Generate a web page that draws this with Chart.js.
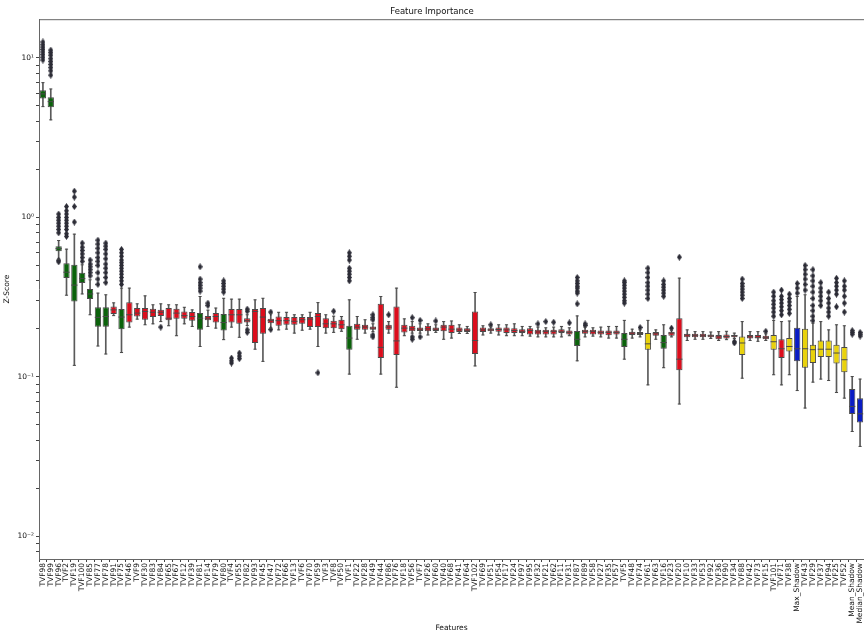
<!DOCTYPE html>
<html>
<head>
<meta charset="utf-8">
<script src="https://cdn.jsdelivr.net/npm/chart.js@4.4.0/dist/chart.umd.min.js"></script>
<style>
html, body { margin: 0; padding: 0; background: #fff; overflow: hidden; }
#wrap { width: 864px; height: 633px; }
canvas { display: block; }
</style>
</head>
<body>
<div id="wrap"><canvas id="chart" width="864" height="633"></canvas></div>
<script>
// feature names, in plotted order
var features = [
  'TVF98','TVF99','TVF96','TVF2','TVF19','TVF100','TVF85','TVF77','TVF78','TVF91',
  'TVF75','TVF46','TVF9','TVF30','TVF83','TVF84','TVF65','TVF67','TVF12','TVF39',
  'TVF81','TVF14','TVF79','TVF80','TVF4','TVF55','TVF82','TVF93','TVF45','TVF47',
  'TVF72','TVF66','TVF13','TVF6','TVF70','TVF59','TVF3','TVF8','TVF50','TVF1',
  'TVF22','TVF28','TVF49','TVF44','TVF86','TVF76','TVF18','TVF56','TVF7','TVF26',
  'TVF60','TVF40','TVF68','TVF41','TVF64','TVF102','TVF69','TVF51','TVF54','TVF17',
  'TVF24','TVF97','TVF95','TVF32','TVF21','TVF62','TVF11','TVF31','TVF87','TVF89',
  'TVF58','TVF27','TVF35','TVF57','TVF5','TVF48','TVF74','TVF61','TVF63','TVF16',
  'TVF23','TVF20','TVF10','TVF33','TVF53','TVF92','TVF36','TVF90','TVF34','TVF88',
  'TVF42','TVF73','TVF15','TVF101','TVF71','TVF38','Max_Shadow','TVF43','TVF29','TVF37',
  'TVF94','TVF25','TVF52','Mean_Shadow','Median_Shadow'
];

// A = accepted, R = rejected, T = tentative, S = shadow
var decision = [
  'A','A','A','A','A','A','A','A','A','R',
  'A','R','R','R','R','R','R','R','R','R',
  'A','R','R','A','R','R','R','R','R','R',
  'R','R','R','R','R','R','R','R','R','A',
  'R','R','R','R','R','R','R','R','R','R',
  'R','R','R','R','R','R','R','R','R','R',
  'R','R','R','R','R','R','R','R','A','R',
  'R','R','R','R','A','R','R','T','R','A',
  'R','R','R','R','R','R','R','R','R','T',
  'R','R','R','T','R','T','S','T','T','T',
  'T','T','T','S','S'
];

var whiskerLow = [
  4.95, 4.09, 0.547, 0.325, 0.118, 0.331, 0.245, 0.156, 0.139, 0.242,
  0.142, 0.205, 0.230, 0.212, 0.215, 0.222, 0.209, 0.181, 0.215, 0.207,
  0.155, 0.207, 0.202, 0.171, 0.205, 0.177, 0.210, 0.149, 0.125, 0.202,
  0.197, 0.199, 0.188, 0.196, 0.199, 0.155, 0.188, 0.190, 0.193, 0.104,
  0.172, 0.188, 0.192, 0.104, 0.188, 0.086, 0.181, 0.188, 0.188, 0.183,
  0.190, 0.172, 0.175, 0.187, 0.187, 0.117, 0.183, 0.188, 0.183, 0.181,
  0.181, 0.181, 0.180, 0.178, 0.178, 0.178, 0.178, 0.181, 0.126, 0.178,
  0.180, 0.178, 0.175, 0.175, 0.129, 0.175, 0.178, 0.089, 0.172, 0.114,
  0.178, 0.0675, 0.169, 0.172, 0.172, 0.174, 0.169, 0.171, 0.174, 0.098,
  0.169, 0.167, 0.169, 0.103, 0.089, 0.103, 0.082, 0.0637, 0.0926, 0.0968,
  0.0948, 0.0797, 0.0735, 0.0454, 0.0366
];

var q1 = [
  5.56, 4.91, 0.614, 0.416, 0.297, 0.387, 0.308, 0.206, 0.206, 0.248,
  0.199, 0.219, 0.239, 0.228, 0.237, 0.241, 0.226, 0.231, 0.231, 0.225,
  0.197, 0.226, 0.219, 0.195, 0.219, 0.215, 0.219, 0.163, 0.186, 0.217,
  0.209, 0.212, 0.212, 0.215, 0.205, 0.205, 0.202, 0.202, 0.199, 0.148,
  0.197, 0.197, 0.197, 0.131, 0.197, 0.137, 0.190, 0.193, 0.194, 0.193,
  0.194, 0.193, 0.188, 0.191, 0.191, 0.139, 0.191, 0.193, 0.192, 0.188,
  0.188, 0.188, 0.184, 0.184, 0.184, 0.184, 0.188, 0.184, 0.156, 0.186,
  0.184, 0.184, 0.182, 0.184, 0.154, 0.183, 0.183, 0.148, 0.181, 0.150,
  0.181, 0.110, 0.177, 0.177, 0.177, 0.177, 0.172, 0.174, 0.177, 0.137,
  0.174, 0.174, 0.172, 0.148, 0.131, 0.144, 0.125, 0.114, 0.122, 0.133,
  0.133, 0.121, 0.107, 0.0584, 0.0517
];

var median = [
  5.95, 5.32, 0.637, 0.453, 0.376, 0.413, 0.331, 0.236, 0.239, 0.263,
  0.237, 0.245, 0.251, 0.257, 0.254, 0.254, 0.233, 0.251, 0.242, 0.239,
  0.233, 0.233, 0.239, 0.219, 0.245, 0.245, 0.225, 0.257, 0.237, 0.225,
  0.225, 0.225, 0.223, 0.228, 0.230, 0.239, 0.215, 0.215, 0.212, 0.175,
  0.205, 0.205, 0.202, 0.153, 0.205, 0.168, 0.202, 0.200, 0.199, 0.200,
  0.199, 0.205, 0.199, 0.197, 0.196, 0.169, 0.197, 0.197, 0.198, 0.197,
  0.195, 0.193, 0.195, 0.191, 0.192, 0.192, 0.193, 0.190, 0.172, 0.192,
  0.192, 0.190, 0.190, 0.190, 0.172, 0.188, 0.187, 0.161, 0.186, 0.164,
  0.188, 0.129, 0.183, 0.182, 0.181, 0.181, 0.178, 0.179, 0.181, 0.163,
  0.178, 0.177, 0.176, 0.166, 0.150, 0.155, 0.150, 0.150, 0.148, 0.149,
  0.149, 0.141, 0.128, 0.0652, 0.0586
];

var q3 = [
  6.27, 5.67, 0.660, 0.516, 0.504, 0.449, 0.355, 0.273, 0.273, 0.276,
  0.266, 0.294, 0.270, 0.270, 0.267, 0.263, 0.270, 0.267, 0.257, 0.255,
  0.251, 0.241, 0.251, 0.248, 0.266, 0.266, 0.233, 0.266, 0.270, 0.231,
  0.239, 0.237, 0.237, 0.237, 0.237, 0.251, 0.233, 0.225, 0.228, 0.209,
  0.215, 0.212, 0.207, 0.287, 0.212, 0.276, 0.212, 0.209, 0.204, 0.209,
  0.204, 0.212, 0.212, 0.204, 0.202, 0.257, 0.204, 0.202, 0.204, 0.204,
  0.202, 0.199, 0.202, 0.197, 0.197, 0.197, 0.199, 0.195, 0.194, 0.197,
  0.197, 0.195, 0.195, 0.195, 0.188, 0.192, 0.191, 0.188, 0.191, 0.183,
  0.192, 0.233, 0.186, 0.186, 0.186, 0.184, 0.183, 0.184, 0.183, 0.179,
  0.183, 0.183, 0.181, 0.183, 0.172, 0.175, 0.203, 0.200, 0.159, 0.169,
  0.169, 0.159, 0.154, 0.0838, 0.0735
];

var whiskerHigh = [
  7.0, 6.39, 0.716, 0.632, 0.785, 0.504, 0.406, 0.335, 0.327, 0.291,
  0.360, 0.360, 0.287, 0.322, 0.283, 0.287, 0.283, 0.283, 0.273, 0.263,
  0.319, 0.262, 0.270, 0.311, 0.307, 0.307, 0.245, 0.304, 0.311, 0.250,
  0.254, 0.254, 0.245, 0.245, 0.254, 0.292, 0.245, 0.240, 0.239, 0.304,
  0.239, 0.228, 0.215, 0.319, 0.222, 0.360, 0.231, 0.222, 0.215, 0.215,
  0.212, 0.222, 0.224, 0.212, 0.207, 0.338, 0.209, 0.206, 0.212, 0.212,
  0.215, 0.207, 0.207, 0.205, 0.203, 0.205, 0.207, 0.203, 0.241, 0.205,
  0.203, 0.205, 0.207, 0.207, 0.226, 0.199, 0.197, 0.226, 0.197, 0.212,
  0.196, 0.416, 0.197, 0.192, 0.192, 0.191, 0.192, 0.193, 0.188, 0.222,
  0.192, 0.192, 0.186, 0.226, 0.222, 0.224, 0.319, 0.327, 0.217, 0.222,
  0.197, 0.212, 0.209, 0.1004, 0.0968
];

var outliers = [
  [9.7, 10.1, 10.5, 10.9, 11.3, 11.7, 12.1, 12.6],
  [7.8, 8.3, 8.7, 9.1, 9.5, 9.9, 10.4, 10.8, 11.2],
  [0.526, 0.538, 0.80, 0.84, 0.88, 0.92, 0.96, 1.0, 1.05],
  [0.76, 0.79, 0.84, 0.88, 0.92, 0.96, 1.0, 1.05, 1.1, 1.17],
  [0.935, 1.17, 1.34, 1.46],
  [0.53, 0.56, 0.59, 0.62, 0.65, 0.69],
  [0.43, 0.45, 0.47, 0.49, 0.51, 0.54],
  [0.38, 0.41, 0.45, 0.50, 0.53, 0.56, 0.60, 0.64, 0.68, 0.72],
  [0.39, 0.42, 0.45, 0.48, 0.51, 0.55, 0.59, 0.63, 0.66, 0.69],
  [],
  [0.38, 0.40, 0.42, 0.44, 0.46, 0.48, 0.50, 0.52, 0.54, 0.57, 0.60, 0.63],
  [], [], [], [],
  [0.205],
  [], [], [], [],
  [0.345, 0.36, 0.375, 0.39, 0.41, 0.49],
  [0.28, 0.29],
  [],
  [0.34, 0.355, 0.37, 0.385, 0.40],
  [0.122, 0.126, 0.131],
  [0.130, 0.135, 0.141],
  [0.19, 0.197, 0.258, 0.266],
  [], [],
  [0.198, 0.255],
  [], [], [], [], [],
  [0.106],
  [],
  [0.258],
  [],
  [0.40, 0.42, 0.44, 0.46, 0.48, 0.54, 0.57, 0.60],
  [], [],
  [0.178, 0.183, 0.228, 0.235, 0.245],
  [],
  [0.245],
  [], [],
  [0.172, 0.178, 0.235],
  [0.178, 0.226],
  [],
  [0.224],
  [], [], [], [], [], [],
  [0.212],
  [], [], [], [], [],
  [0.215],
  [0.222],
  [0.220],
  [],
  [0.218],
  [0.287, 0.335, 0.345, 0.36, 0.37, 0.385, 0.40, 0.42],
  [0.21, 0.215],
  [], [], [], [],
  [0.29, 0.30, 0.315, 0.33, 0.345, 0.36, 0.375, 0.39, 0.40],
  [],
  [0.204],
  [0.31, 0.33, 0.35, 0.37, 0.39, 0.42, 0.45, 0.48],
  [],
  [0.32, 0.335, 0.35, 0.365, 0.38, 0.40],
  [0.202],
  [0.563],
  [], [], [], [], [], [],
  [0.163, 0.166],
  [0.31, 0.325, 0.34, 0.355, 0.37, 0.385, 0.41],
  [], [],
  [0.193],
  [0.24, 0.255, 0.27, 0.285, 0.30, 0.32, 0.34],
  [0.245, 0.26, 0.275, 0.29, 0.305, 0.32, 0.35],
  [0.25, 0.265, 0.28, 0.295, 0.31, 0.33],
  [0.335, 0.36, 0.385],
  [0.35, 0.38, 0.41, 0.44, 0.47, 0.50],
  [0.225, 0.24, 0.26, 0.28, 0.31, 0.34, 0.37, 0.40, 0.43, 0.47],
  [0.28, 0.30, 0.32, 0.34, 0.36, 0.39],
  [0.24, 0.255, 0.27, 0.29, 0.31, 0.34],
  [0.275, 0.33, 0.35, 0.37, 0.39, 0.415],
  [0.255, 0.29, 0.32, 0.35, 0.37, 0.40],
  [0.185, 0.19, 0.195],
  [0.18, 0.185, 0.19]
];

var yMin = 0.0072, yMax = 17.5;

var fillFor = { A: '#0b620b', R: '#dc0d1c', T: '#e9d20c', S: '#0a1cc4' };
var lineGray = '#4a4a4a';
var font = 'DejaVu Sans, sans-serif';

// thin diamond marker like matplotlib 'd'
var diamond = document.createElement('canvas');
diamond.width = 5; diamond.height = 7;
var dctx = diamond.getContext('2d');
dctx.fillStyle = '#2c2c36';
dctx.beginPath();
dctx.moveTo(2.5, 0); dctx.lineTo(5, 3.5); dctx.lineTo(2.5, 7); dctx.lineTo(0, 3.5);
dctx.closePath();
dctx.fill();

var flierPoints = [];
outliers.forEach(function (list, i) {
  list.forEach(function (v) { flierPoints.push({ x: features[i], y: v }); });
});

var sup = { '-': '\u207B', '0': '\u2070', '1': '\u00B9', '2': '\u00B2', '3': '\u00B3' };
function powLabel(k) {
  return '10' + String(k).split('').map(function (c) { return sup[c]; }).join('');
}

// medians, whisker caps and the top frame line
var boxExtras = {
  id: 'boxExtras',
  afterDatasetsDraw: function (chart) {
    var ctx = chart.ctx, xs = chart.scales.x, ys = chart.scales.y;
    var boxes = chart.getDatasetMeta(1).data;
    ctx.save();
    ctx.strokeStyle = lineGray;
    ctx.lineWidth = 1;
    features.forEach(function (f, i) {
      var x = xs.getPixelForValue(i);
      var half = boxes[i].width / 2;
      var ym = ys.getPixelForValue(median[i]);
      var yl = ys.getPixelForValue(whiskerLow[i]);
      var yh = ys.getPixelForValue(whiskerHigh[i]);
      ctx.beginPath();
      ctx.moveTo(x - half, ym); ctx.lineTo(x + half, ym);
      ctx.moveTo(x - half / 2, yl); ctx.lineTo(x + half / 2, yl);
      ctx.moveTo(x - half / 2, yh); ctx.lineTo(x + half / 2, yh);
      ctx.stroke();
    });
    var a = chart.chartArea;
    ctx.strokeStyle = '#666';
    ctx.beginPath();
    ctx.moveTo(a.left, a.top + 0.5); ctx.lineTo(a.right, a.top + 0.5);
    ctx.stroke();
    ctx.restore();
  }
};

new Chart(document.getElementById('chart'), {
  type: 'bar',
  data: {
    labels: features,
    datasets: [
      {
        label: 'whiskers',
        data: features.map(function (f, i) { return [whiskerLow[i], whiskerHigh[i]]; }),
        backgroundColor: '#5a5a5a',
        borderWidth: 0,
        barThickness: 1,
        grouped: false,
        order: 3
      },
      {
        label: 'boxes',
        data: features.map(function (f, i) { return [q1[i], q3[i]]; }),
        backgroundColor: decision.map(function (d) { return fillFor[d]; }),
        borderColor: lineGray,
        borderWidth: 1,
        borderSkipped: false,
        barPercentage: 0.8,
        categoryPercentage: 1.0,
        grouped: false,
        order: 2
      },
      {
        type: 'scatter',
        label: 'outliers',
        data: flierPoints,
        pointStyle: diamond,
        pointRadius: 3,
        order: 1
      }
    ]
  },
  options: {
    responsive: false,
    animation: false,
    devicePixelRatio: 1,
    layout: { autoPadding: false, padding: { left: 0, right: 0, top: 0, bottom: 0 } },
    plugins: {
      legend: { display: false },
      tooltip: { enabled: false },
      title: {
        display: true,
        text: 'Feature Importance',
        color: '#111',
        font: { family: font, size: 8.5, weight: 'normal' },
        padding: { top: 7, bottom: 2 }
      }
    },
    scales: {
      x: {
        type: 'category',
        offset: true,
        grid: { display: true, drawOnChartArea: false, drawTicks: true, tickLength: 3, color: '#444' },
        border: { display: true, color: '#666' },
        ticks: {
          autoSkip: false, minRotation: 90, maxRotation: 90, padding: 1,
          color: '#111', font: { family: font, size: 7.5 }
        },
        title: {
          display: true, text: 'Features', color: '#111',
          font: { family: font, size: 7.5 }, padding: { top: 0, bottom: 0 }
        },
        afterFit: function (s) { s.height = 74; s.paddingLeft = 0; s.paddingRight = 0; }
      },
      y: {
        type: 'logarithmic',
        min: yMin,
        max: yMax,
        grid: { display: true, drawOnChartArea: false, drawTicks: true, tickLength: 3, color: '#444' },
        border: { display: true, color: '#666' },
        afterBuildTicks: function (scale) {
          var t = [];
          for (var k = -3; k <= 1; k++) {
            for (var m = 1; m <= 9; m++) {
              var v = m * Math.pow(10, k);
              if (v >= scale.min && v <= scale.max) t.push({ value: v, major: m === 1 });
            }
          }
          scale.ticks = t;
        },
        ticks: {
          autoSkip: false, padding: 2, color: '#111',
          font: { family: font, size: 7.5 },
          callback: function (v) {
            var l = Math.log10(v);
            return Math.abs(l - Math.round(l)) < 1e-9 ? powLabel(Math.round(l)) : '';
          }
        },
        title: {
          display: true, text: 'Z-Score', color: '#111',
          font: { family: font, size: 7.5 }, padding: { top: 3, bottom: 0 }
        },
        afterFit: function (s) { s.width = 39; s.paddingTop = 0; s.paddingBottom = 0; }
      }
    }
  },
  plugins: [boxExtras]
});
</script>
</body>
</html>
